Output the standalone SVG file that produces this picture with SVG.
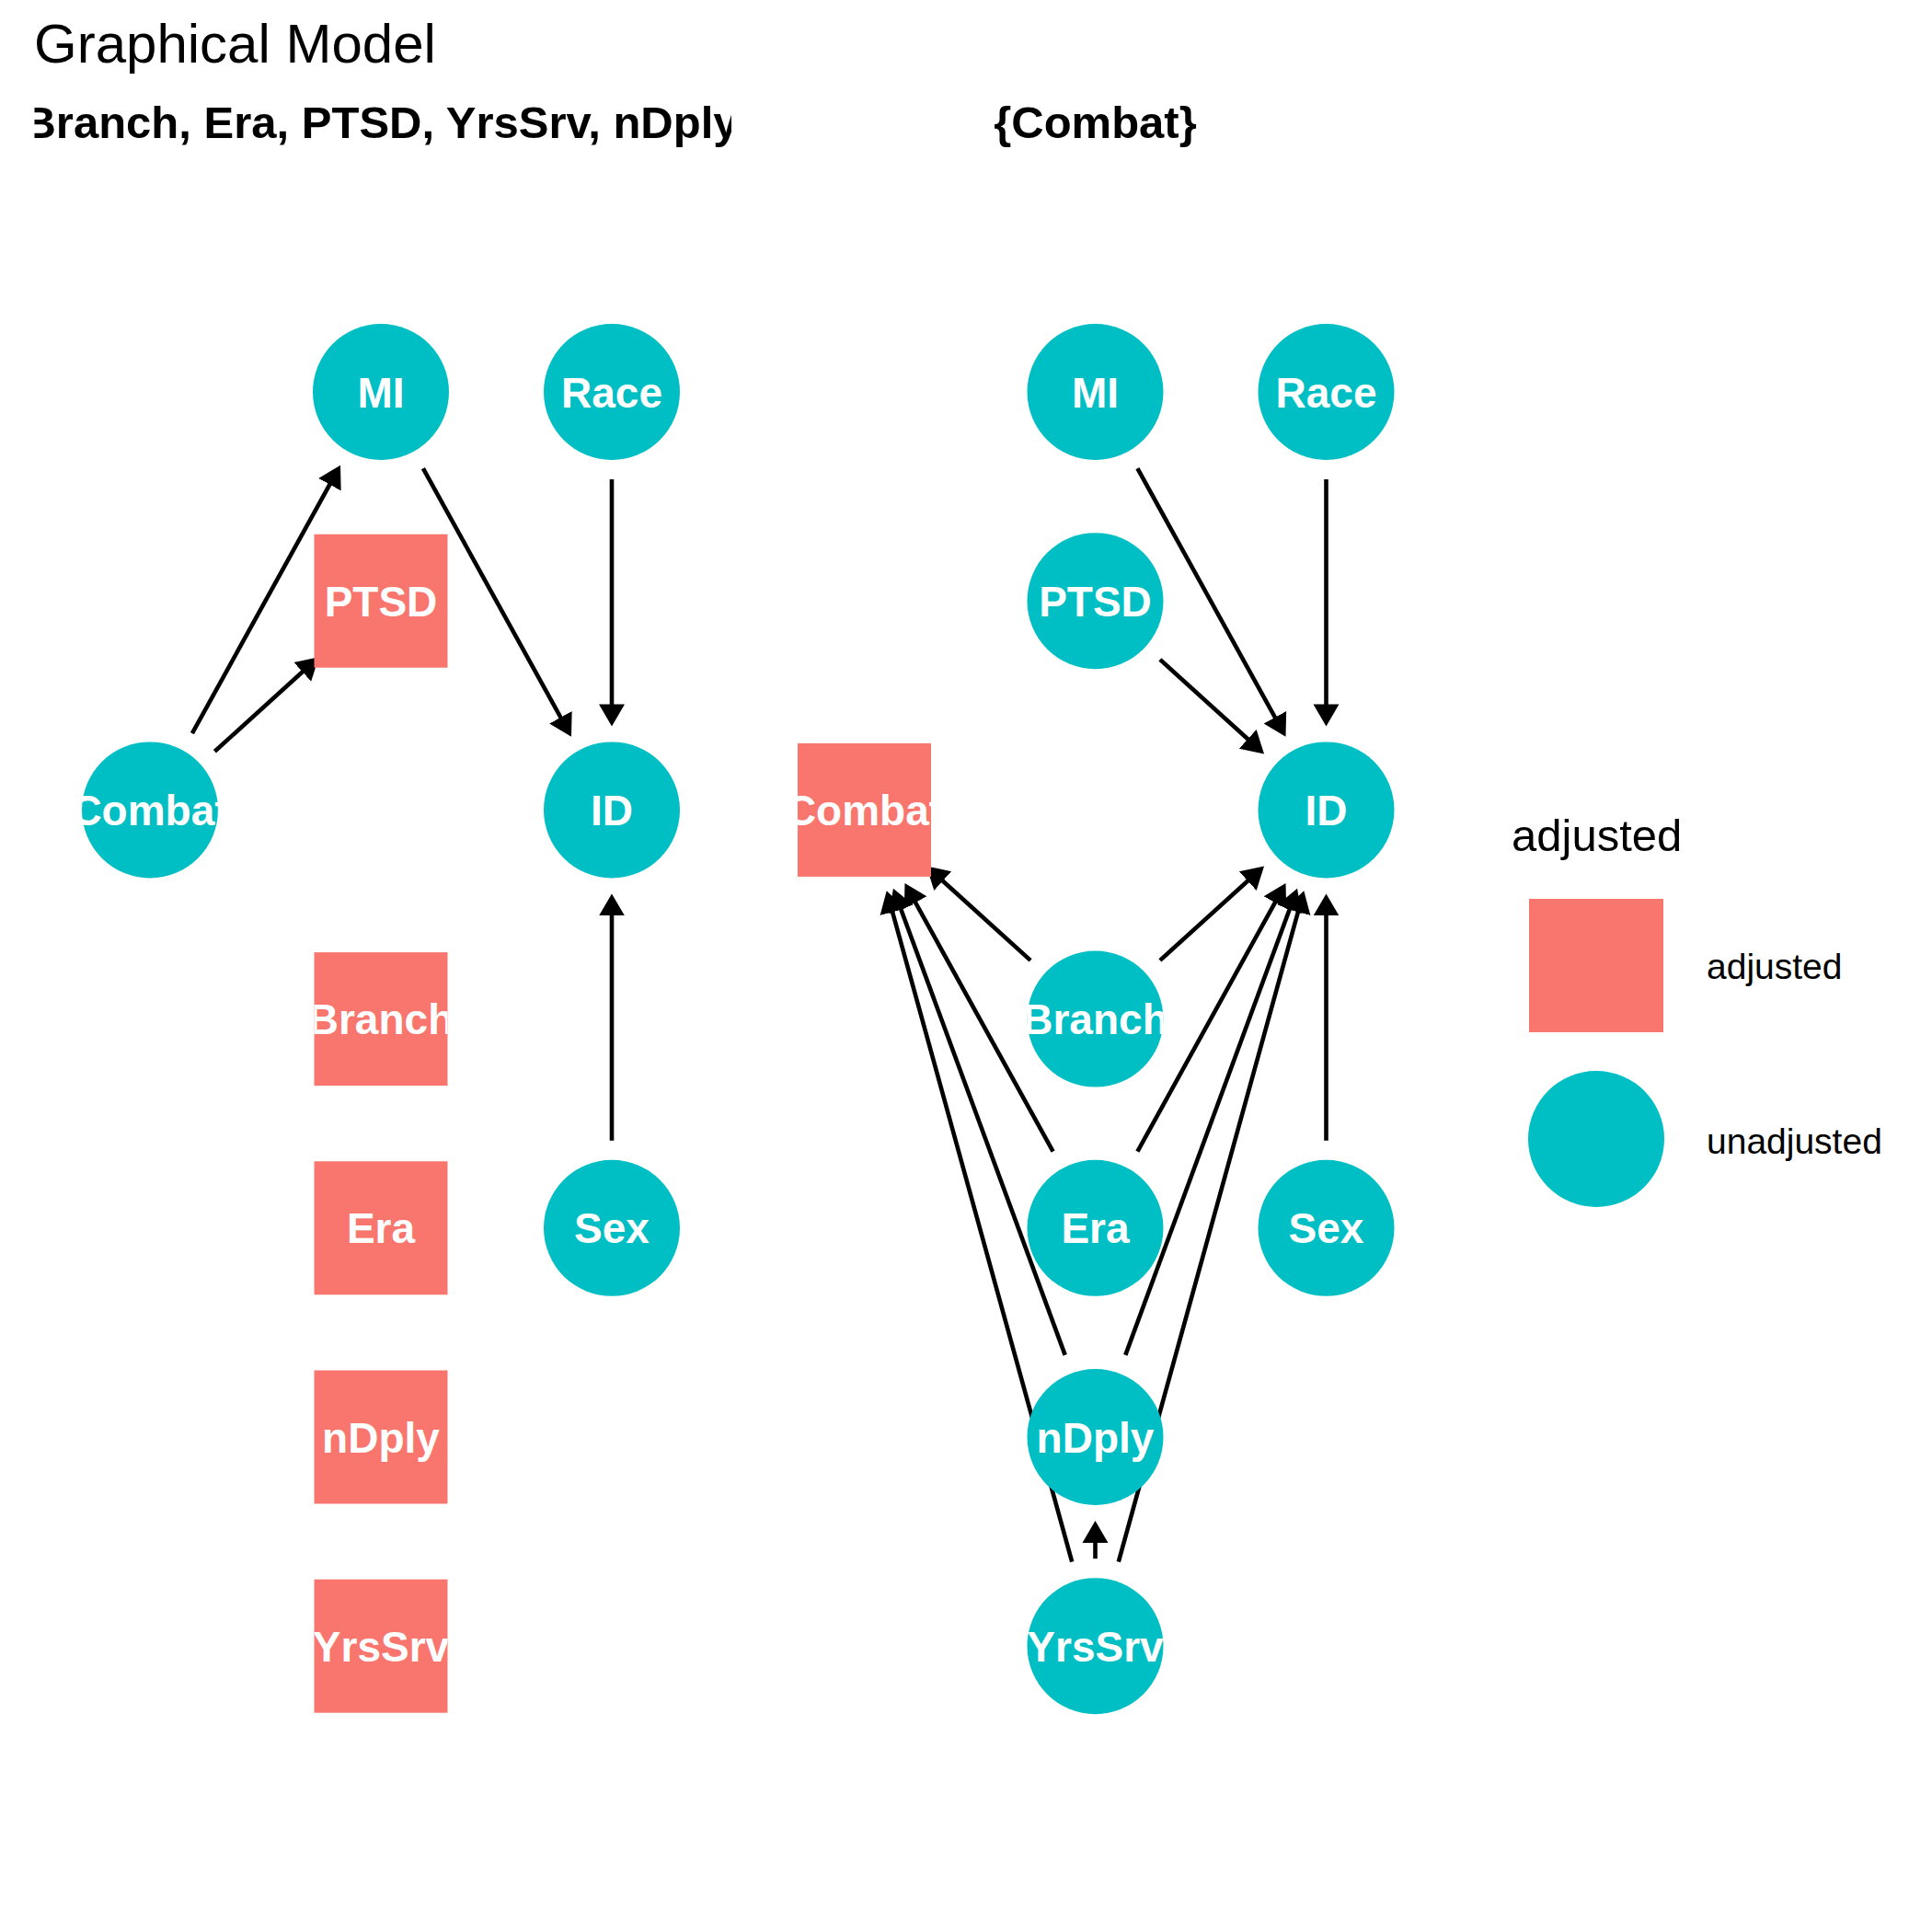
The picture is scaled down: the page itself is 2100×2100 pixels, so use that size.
<svg xmlns="http://www.w3.org/2000/svg" width="2100" height="2100" viewBox="0 0 2100 2100">
<style>
text{font-family:"Liberation Sans",Arial,Helvetica,sans-serif}
.title{font-size:60px;fill:#000}
.strip{font-size:49px;font-weight:bold;fill:#000;text-anchor:middle}
.lbl{font-size:46px;font-weight:bold;fill:#fff;text-anchor:middle}
.adj{fill:#F8766D}
.unadj{fill:#00BFC4}
.edge{stroke:#000;stroke-width:4.6;fill:none;marker-end:url(#arr)}
.legt{font-size:49px;fill:#000}
.legl{font-size:39px;fill:#000}
</style>
<defs>
<marker id="arr" markerUnits="userSpaceOnUse" markerWidth="32" markerHeight="32" viewBox="0 -16 32 32" refX="6" refY="0" orient="auto"><path d="M0,-14 L24,0 L0,14 Z" fill="#000"/></marker>
<clipPath id="cStrip"><rect x="37.5" y="90" width="757.5" height="80"/></clipPath>
<clipPath id="cLCombat"><rect x="89" y="806" width="148" height="148"/></clipPath>
<clipPath id="cLBranch"><rect x="341.5" y="1035" width="145" height="145"/></clipPath>
<clipPath id="cLYrsSrv"><rect x="341.5" y="1716.7" width="145" height="145"/></clipPath>
<clipPath id="cRCombat"><rect x="867" y="808" width="145" height="145"/></clipPath>
<clipPath id="cRBranch"><rect x="1116.5" y="1033.6" width="148" height="148"/></clipPath>
<clipPath id="cRYrsSrv"><rect x="1116.5" y="1715.2" width="148" height="148"/></clipPath>
</defs>
<rect width="2100" height="2100" fill="#fff"/>
<text class="title" x="37" y="68">Graphical Model</text>
<g id="strips">
<text class="strip" x="414" y="150" clip-path="url(#cStrip)">Branch, Era, PTSD, YrsSrv, nDply</text>
<text class="strip" x="1190.5" y="150">{Combat}</text>
</g>
<g id="connectors">
<line class="edge" x1="208.9" y1="797.2" x2="361.3" y2="521.4"/>
<line class="edge" x1="233.4" y1="816.7" x2="333.2" y2="726.3"/>
<line class="edge" x1="459.9" y1="509.2" x2="612.3" y2="785"/>
<line class="edge" x1="665" y1="521" x2="665" y2="771.4"/>
<line class="edge" x1="665" y1="1239.8" x2="665" y2="989.4"/>
<line class="edge" x1="1236.4" y1="509.2" x2="1388.8" y2="785"/>
<line class="edge" x1="1441.5" y1="521" x2="1441.5" y2="771.4"/>
<line class="edge" x1="1260.9" y1="716.9" x2="1360.7" y2="807.3"/>
<line class="edge" x1="1120.1" y1="1043.9" x2="1020.3" y2="953.5"/>
<line class="edge" x1="1260.9" y1="1043.9" x2="1360.7" y2="953.5"/>
<line class="edge" x1="1144.6" y1="1251.6" x2="992.2" y2="975.8"/>
<line class="edge" x1="1236.4" y1="1251.6" x2="1388.8" y2="975.8"/>
<line class="edge" x1="1441.5" y1="1239.8" x2="1441.5" y2="989.4"/>
<line class="edge" x1="1157.7" y1="1472.9" x2="977.2" y2="982.7"/>
<line class="edge" x1="1223.3" y1="1472.9" x2="1403.8" y2="982.7"/>
<line class="edge" x1="1165.2" y1="1697.6" x2="968.5" y2="985.5"/>
<line class="edge" x1="1215.8" y1="1697.6" x2="1412.5" y2="985.5"/>
<line class="edge" x1="1190.5" y1="1694.2" x2="1190.5" y2="1671"/>
</g>
<g id="L-MI"><circle class="unadj" cx="414" cy="426" r="74"/><text class="lbl" x="414" y="442.5">MI</text></g>
<g id="L-Race"><circle class="unadj" cx="665" cy="426" r="74"/><text class="lbl" x="665" y="442.5">Race</text></g>
<g id="L-PTSD"><rect class="adj" x="341.5" y="580.7" width="145" height="145"/><text class="lbl" x="414" y="669.7">PTSD</text></g>
<g id="L-Combat"><circle class="unadj" cx="163" cy="880.4" r="74"/><text class="lbl" x="163" y="896.9" clip-path="url(#cLCombat)">Combat</text></g>
<g id="L-ID"><circle class="unadj" cx="665" cy="880.4" r="74"/><text class="lbl" x="665" y="896.9">ID</text></g>
<g id="L-Branch"><rect class="adj" x="341.5" y="1035.1" width="145" height="145"/><text class="lbl" x="414" y="1124.1" clip-path="url(#cLBranch)">Branch</text></g>
<g id="L-Era"><rect class="adj" x="341.5" y="1262.3" width="145" height="145"/><text class="lbl" x="414" y="1351.3">Era</text></g>
<g id="L-Sex"><circle class="unadj" cx="665" cy="1334.8" r="74"/><text class="lbl" x="665" y="1351.3">Sex</text></g>
<g id="L-nDply"><rect class="adj" x="341.5" y="1489.5" width="145" height="145"/><text class="lbl" x="414" y="1578.5">nDply</text></g>
<g id="L-YrsSrv"><rect class="adj" x="341.5" y="1716.7" width="145" height="145"/><text class="lbl" x="414" y="1805.7" clip-path="url(#cLYrsSrv)">YrsSrv</text></g>
<g id="R-MI"><circle class="unadj" cx="1190.5" cy="426" r="74"/><text class="lbl" x="1190.5" y="442.5">MI</text></g>
<g id="R-Race"><circle class="unadj" cx="1441.5" cy="426" r="74"/><text class="lbl" x="1441.5" y="442.5">Race</text></g>
<g id="R-PTSD"><circle class="unadj" cx="1190.5" cy="653.2" r="74"/><text class="lbl" x="1190.5" y="669.7">PTSD</text></g>
<g id="R-Combat"><rect class="adj" x="867" y="807.9" width="145" height="145"/><text class="lbl" x="939.5" y="896.9" clip-path="url(#cRCombat)">Combat</text></g>
<g id="R-ID"><circle class="unadj" cx="1441.5" cy="880.4" r="74"/><text class="lbl" x="1441.5" y="896.9">ID</text></g>
<g id="R-Branch"><circle class="unadj" cx="1190.5" cy="1107.6" r="74"/><text class="lbl" x="1190.5" y="1124.1" clip-path="url(#cRBranch)">Branch</text></g>
<g id="R-Era"><circle class="unadj" cx="1190.5" cy="1334.8" r="74"/><text class="lbl" x="1190.5" y="1351.3">Era</text></g>
<g id="R-Sex"><circle class="unadj" cx="1441.5" cy="1334.8" r="74"/><text class="lbl" x="1441.5" y="1351.3">Sex</text></g>
<g id="R-nDply"><circle class="unadj" cx="1190.5" cy="1562" r="74"/><text class="lbl" x="1190.5" y="1578.5">nDply</text></g>
<g id="R-YrsSrv"><circle class="unadj" cx="1190.5" cy="1789.2" r="74"/><text class="lbl" x="1190.5" y="1805.7" clip-path="url(#cRYrsSrv)">YrsSrv</text></g>
<g id="legend">
<text class="legt" x="1643" y="925">adjusted</text>
<rect class="adj" x="1662" y="977" width="146" height="145"/>
<text class="legl" x="1855" y="1064">adjusted</text>
<circle class="unadj" cx="1735" cy="1238" r="74"/>
<text class="legl" x="1855" y="1254">unadjusted</text>
</g>
</svg>
